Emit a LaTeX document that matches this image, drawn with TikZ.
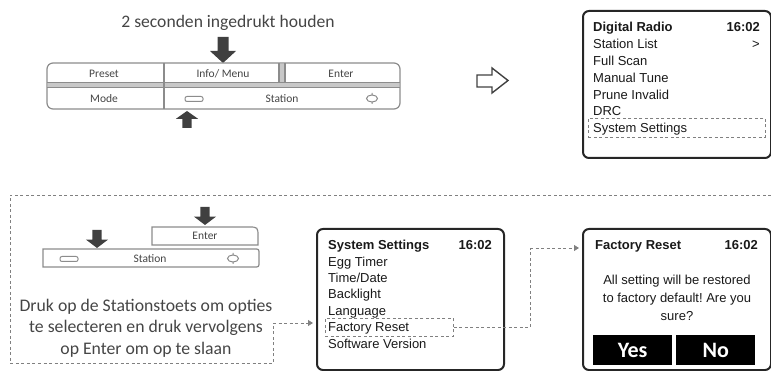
\documentclass[tikz,border=0pt]{standalone}
\usepackage{fontspec}
\setmainfont{Carlito}
\newfontfamily\arial{Liberation Sans}
\usetikzlibrary{arrows.meta}
\definecolor{agray}{HTML}{404040}
\definecolor{bgray}{HTML}{8C8C8C}
\definecolor{tgray}{HTML}{454545}
\definecolor{dgray}{HTML}{808080}
\definecolor{band}{HTML}{C8C8C8}
\frenchspacing
\tikzset{
  screen/.style={draw=black!85, line width=2pt, rounded corners=6pt, anchor=north west, inner sep=0pt},
  scr/.style={font=\arial\fontsize{13}{13}\selectfont, inner sep=0pt, anchor=base west, text=black!90},
  scrb/.style={scr, font=\arial\bfseries\fontsize{13}{13}\selectfont},
  btnlabel/.style={font=\fontsize{11.5}{12}\selectfont, text=tgray, inner sep=0pt},
  btnline/.style={draw=bgray, line width=1.2pt},
  dashln/.style={draw=dgray, line width=0.9pt, dash pattern=on 3pt off 2.5pt},
  hlbox/.style={dashln, anchor=north west, inner sep=0pt},
  arrowtip/.style={-{Triangle[length=5pt,width=6pt]}, shorten >=3pt},
  yn/.style={fill=black, text=white, anchor=north west, inner sep=0pt, font=\bfseries\fontsize{22}{22}\selectfont},
  barrow/.pic={\fill[agray] (-5.5,-26) -- (5.5,-26) -- (5.5,-12) -- (13,-12) -- (0,0) -- (-13,-12) -- (-5.5,-12) -- cycle;}
}
\begin{document}
\frenchspacing
\begin{tikzpicture}[x=1pt,y=-1pt]
\useasboundingbox (0,0) rectangle (771,371);

% ---- top: title and button panel
\node[font=\fontsize{17.6}{18}\selectfont, text=tgray, inner sep=0pt] (title) at (228,23) {2 seconden ingedrukt houden};
\pic at (223,63) {barrow};

\draw[btnline, fill=white, rounded corners=6pt] (47,63) rectangle (400,109);
\fill[band] (47.8,82.5) rectangle (399.2,87.5);
\draw[btnline] (47,82.5) -- (400,82.5) (47,87.5) -- (400,87.5);
\draw[btnline] (164,63) -- (164,109);
\fill[band] (279,63.6) rectangle (285,82.5);
\draw[btnline] (279,63) -- (279,82.5) (285,63) -- (285,82.5);

\node[btnlabel] (bpreset) at (104,74) {Preset};
\node[btnlabel] (binfo) at (223,74) {Info/ Menu};
\node[btnlabel] (benter) at (341,74) {Enter};
\node[btnlabel] (bmode) at (104,99) {Mode};
\node[btnlabel] (bstation) at (282,99) {Station};
\draw[btnline, line width=1pt, rounded corners=2pt] (185,96.5) rectangle (203,101.5);
\draw[btnline, line width=1pt] (372,98.5) ellipse (5.5 and 3.5) (372,93) -- (372,95) (372,102) -- (372,104);
\pic[xscale=.85, yscale=-.65] at (187,111) {barrow};

% hollow arrow
\draw[agray, line width=1.4pt, line join=miter] (477,75) -- (492,75) -- (492,68) -- (508,80.5) -- (492,93) -- (492,87) -- (477,87) -- cycle;

% ---- screen 1
\node[screen, minimum width=188pt, minimum height=147pt] (s1) at (582,10) {};
\node[scrb] (s1h) at (593,31.5) {Digital Radio};
\node[scrb, anchor=base east] (s1t) at (760,31.5) {16:02};
\foreach \t [count=\i from 0] in {Station List, Full Scan, Manual Tune, Prune Invalid, DRC, System Settings}
  \node[scr] (s1l\i) at (593,{48.4+16.9*\i}) {\t};
\node[scr, anchor=base east] (s1g) at (760,48.4) {>};
\node[hlbox, minimum width=177pt, minimum height=19pt] (hl1) at (588,118) {};

% ---- bottom-left frame
\coordinate (fTR) at (771,195);
\coordinate (fTL) at (10,195);
\coordinate (fBL) at (10,363);
\coordinate (fBR) at (273,363);
\coordinate (fK) at (273,323);
\draw[dashln] (fTR) -- (fTL) -- (fBL) -- (fBR) -- (fK);

\pic[xscale=.85, yscale=.7] at (205,225) {barrow};
\pic[xscale=.85, yscale=.7] at (97,248) {barrow};
\draw[btnline, fill=white] (152,245) -- (152,227) -- (248,227) .. controls (258,227) .. (258,237) -- (258,245) -- cycle;
\draw[btnline, fill=white] (43,249) -- (254,249) .. controls (259,249) .. (259,254) -- (259,262) .. controls (259,267) .. (254,267) -- (43,267) -- cycle;
\node[btnlabel] (b2enter) at (205,236) {Enter};
\node[btnlabel] (b2station) at (150,258.5) {Station};
\draw[btnline, line width=1pt, rounded corners=2pt] (60,256.5) rectangle (78,261.5);
\draw[btnline, line width=1pt] (233,258.5) ellipse (5.5 and 3.5) (233,253) -- (233,255) (233,262) -- (233,264);

\node[align=center, font=\fontsize{17.7}{21.5}\selectfont, text=tgray, inner sep=0pt] (info) at (146,328)
  {Druk op de Stationstoets om opties\\te selecteren en druk vervolgens\\op Enter om op te slaan};

% ---- screen 2
\node[screen, minimum width=187pt, minimum height=141pt] (s2) at (316,228) {};
\node[scrb] (s2h) at (328,249.7) {System Settings};
\node[scrb, anchor=base east] (s2t) at (492,249.7) {16:02};
\foreach \t [count=\i from 0] in {Egg Timer, Time/Date, Backlight, Language, Factory Reset, Software Version}
  \node[scr] (s2l\i) at (328,{266.1+16.4*\i}) {\t};
\node[hlbox, minimum width=128pt, minimum height=18pt] (hl2) at (325,318) {};

\draw[dashln, arrowtip] (fK) -- (fK -| s2.west);

% ---- screen 3
\node[screen, minimum width=188pt, minimum height=141pt] (s3) at (582,228) {};
\node[scrb] (s3h) at (595,249.7) {Factory Reset};
\node[scrb, anchor=base east] (s3t) at (758,249.7) {16:02};
\node[scr, anchor=base] (s3a) at (677,285) {All setting will be restored};
\node[scr, anchor=base] (s3b) at (677,302.5) {to factory default! Are you};
\node[scr, anchor=base] (s3c) at (677,320) {sure?};
\node[yn, minimum width=79pt, minimum height=30pt] (yes) at (593,335) {Yes};
\node[yn, minimum width=79pt, minimum height=30pt] (no) at (676,335) {No};

\coordinate (b2) at (530,248);
\draw[dashln] (hl2.east) -| (b2);
\draw[dashln, arrowtip] (b2) -- (b2 -| s3.west);
\end{tikzpicture}
\end{document}
